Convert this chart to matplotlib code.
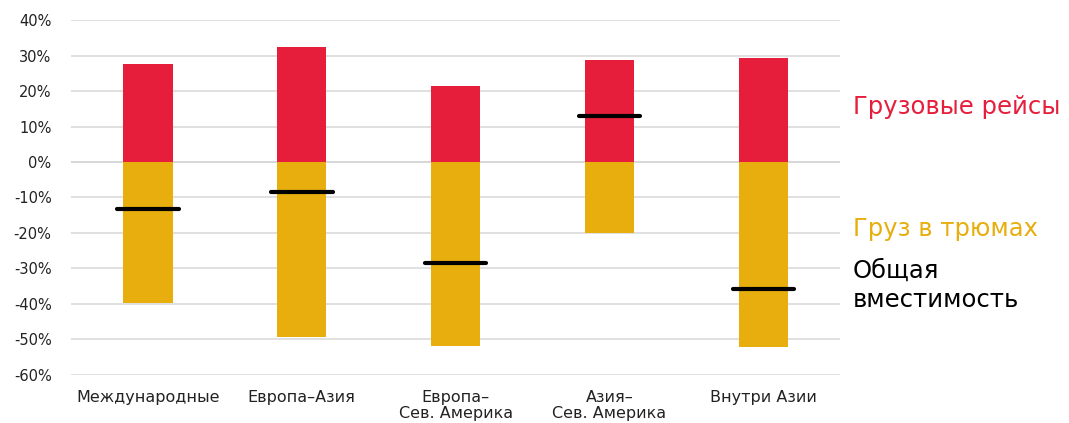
import matplotlib
matplotlib.use("Agg")
import matplotlib.pyplot as plt
import numpy as np

plt.rcParams["font.family"] = ["DejaVu Sans"]

categories = ["Международные", "Европа–Азия", "Европа–\nСев. Америка",
              "Азия–\nСев. Америка", "Внутри Азии"]
cargo_flights = [27.5, 32.5, 21.5, 28.6, 29.4]      # Грузовые рейсы
belly_cargo = [-39.6, -49.2, -51.7, -19.9, -52.0]   # Груз в трюмах
total_capacity = [-13.1, -8.5, -28.5, 12.9, -35.8]  # Общая вместимость
yticks = list(range(-60, 41, 10))

RED = "#E61E3C"
GOLD = "#E8AE0E"

fig = plt.figure(figsize=(10.69, 4.23), dpi=100)
ax = fig.add_axes([0.0664, 0.1135, 0.7196, 0.8392])

x = np.arange(len(categories))
ax.bar(x, cargo_flights, width=0.32, color=RED, zorder=2)
ax.bar(x, belly_cargo, width=0.32, color=GOLD, zorder=2)
ax.hlines(total_capacity, x - 0.2, x + 0.2, color="black", linewidth=3,
          capstyle="round", zorder=3)

ax.set_xlim(-0.5, 4.5)
ax.set_ylim(-60, 40)
ax.set_yticks(yticks)
ax.set_yticklabels([f"{v}%" for v in yticks], fontsize=10.5, color="#222222")
ax.set_xticks(x)
ax.set_xticklabels(categories, fontsize=11.5, color="#222222", linespacing=1.05)
ax.tick_params(axis="y", length=0, pad=14)
ax.tick_params(axis="x", length=0, pad=11)
ax.grid(axis="y", color="#dddddd", linewidth=1.3, zorder=0)
ax.axhline(0, color="#999999", linewidth=1.2, zorder=1)
for s in ax.spines.values():
    s.set_visible(False)

fig.text(0.798, 0.747, "Грузовые рейсы", color=RED, fontsize=17.5, va="center")
fig.text(0.798, 0.458, "Груз в трюмах", color=GOLD, fontsize=17.5, va="center")
fig.text(0.798, 0.325, "Общая\nвместимость", color="black", fontsize=17.5,
         va="center", linespacing=1.25)

fig.savefig("out.png", dpi=100)
